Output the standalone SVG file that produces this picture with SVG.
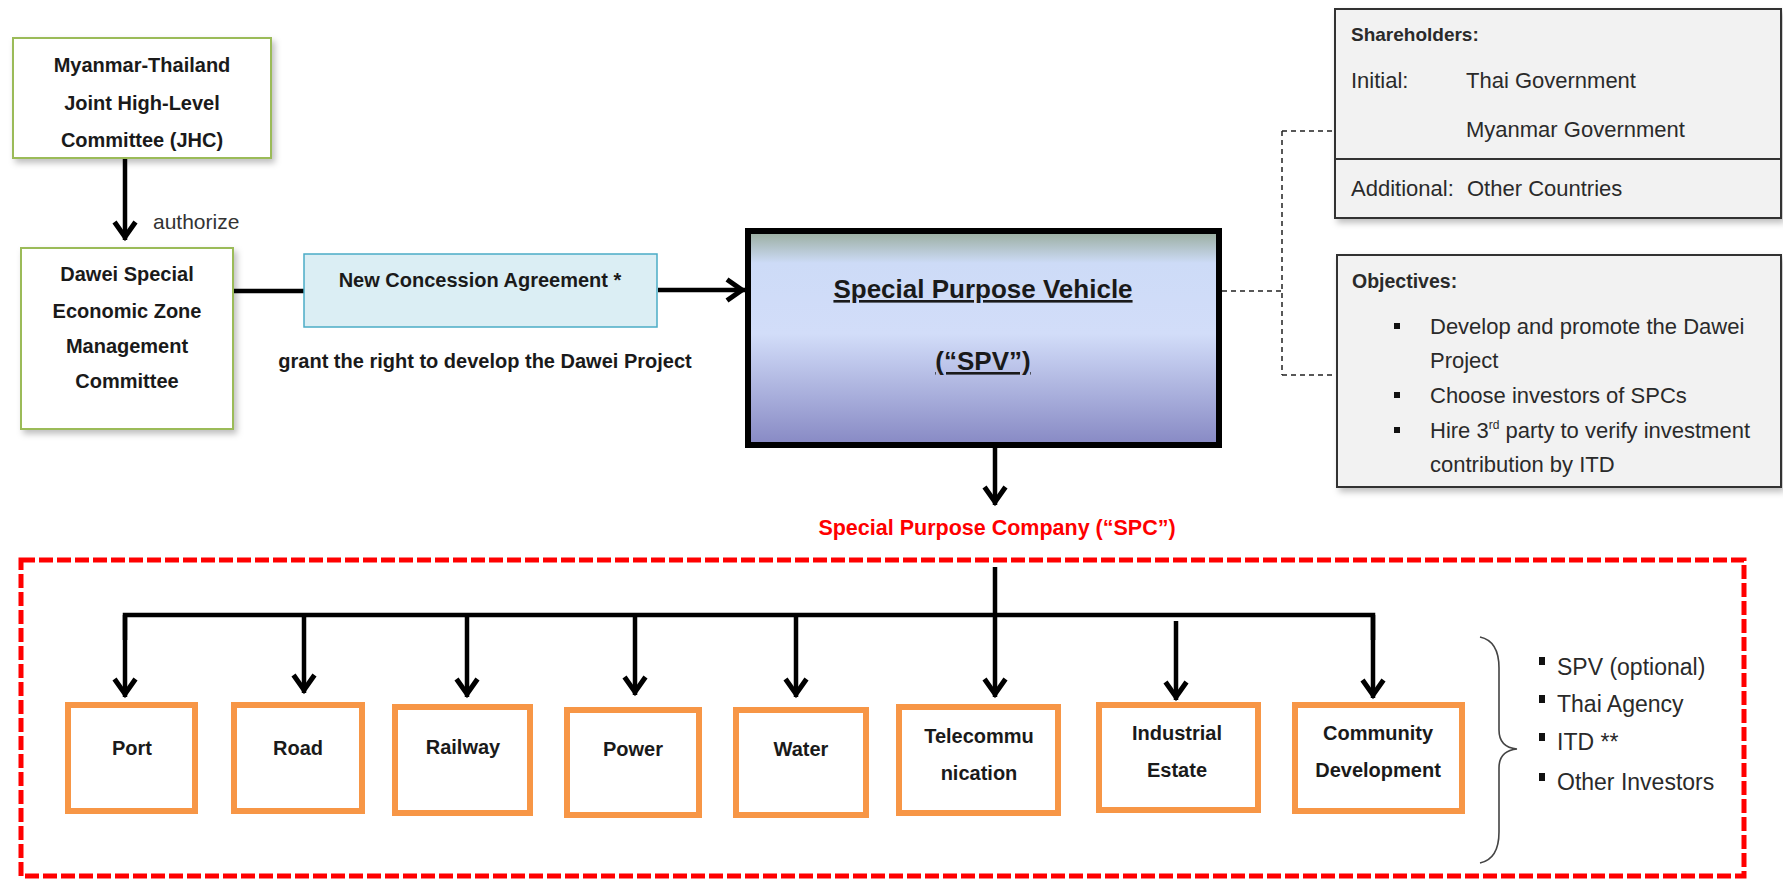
<svg xmlns="http://www.w3.org/2000/svg" width="1783" height="880" viewBox="0 0 1783 880">
<style>
text{font-family:"Liberation Sans",Arial,sans-serif;}
.b{font-weight:bold;fill:#1a1a1a;font-size:20px;}
.r{fill:#2a2a2a;font-size:22px;}
.lbl{font-weight:bold;fill:#1a1a1a;font-size:20px;text-anchor:middle;}
.mid{text-anchor:middle;}
.green{fill:#fff;stroke:#9BBB59;stroke-width:2;}
.grey{fill:#F2F2F2;stroke:#333;stroke-width:2;}
.org{fill:#fff;stroke:#F79646;stroke-width:6;}
.ln{stroke:#000;stroke-width:4.5;fill:none;}
.ar{stroke:#000;stroke-width:4.5;fill:none;marker-end:url(#arr);}
.dash{stroke:#222;stroke-width:1.5;fill:none;stroke-dasharray:5 4;}
.lst{fill:#2a2a2a;font-size:23px;}
</style>
<defs>
<marker id="arr" markerUnits="userSpaceOnUse" markerWidth="40" markerHeight="40" viewBox="-25 -20 40 40" refX="0" refY="0" orient="auto" overflow="visible">
<path d="M-18,-10.5 L-3,0 L-18,10.5" fill="none" stroke="#000" stroke-width="5" stroke-linejoin="miter"/>
</marker>
<linearGradient id="spvg" x1="0" y1="0" x2="0" y2="1">
<stop offset="0" stop-color="#98AC9C"/>
<stop offset="0.15" stop-color="#CDDBF7"/>
<stop offset="0.48" stop-color="#D2DDF9"/>
<stop offset="1" stop-color="#8789C4"/>
</linearGradient>
<filter id="sh" x="-10%" y="-10%" width="125%" height="130%">
<feDropShadow dx="3" dy="4" stdDeviation="3" flood-color="#000" flood-opacity="0.25"/>
</filter>
</defs>

<g id="connectors">
<line class="ar" x1="125" y1="159" x2="125" y2="240"/>
<line class="ln" x1="234" y1="291" x2="304" y2="291" stroke-width="3.5"/>
<line class="ar" x1="658" y1="290" x2="745" y2="290" stroke-width="3.5"/>
<line class="ar" x1="995" y1="448" x2="995" y2="505"/>
<path class="dash" d="M1222,291 H1282 M1282,131 V375 M1282,131 H1334 M1282,375 H1336"/>
<path class="ln" d="M125,640 V615 H1373 V640" stroke-width="5" stroke-linejoin="miter"/>
<line class="ar" x1="125" y1="615" x2="125" y2="697"/>
<line class="ar" x1="304" y1="615" x2="304" y2="693"/>
<line class="ar" x1="467" y1="615" x2="467" y2="697"/>
<line class="ar" x1="635" y1="615" x2="635" y2="695"/>
<line class="ar" x1="796" y1="615" x2="796" y2="697"/>
<line class="ar" x1="995" y1="567" x2="995" y2="697"/>
<line class="ar" x1="1176" y1="621" x2="1176" y2="700"/>
<line class="ar" x1="1373" y1="615" x2="1373" y2="698"/>
</g>

<g id="jhc">
<rect class="green" x="13" y="38" width="258" height="120" filter="url(#sh)"/>
<text class="b mid" x="142" y="72">Myanmar-Thailand</text>
<text class="b mid" x="142" y="110">Joint High-Level</text>
<text class="b mid" x="142" y="147">Committee (JHC)</text>
</g>

<g id="authorize-label">
<text x="153" y="229" font-size="21" fill="#333">authorize</text>
</g>

<g id="dawei">
<rect class="green" x="21" y="248" width="212" height="181" filter="url(#sh)"/>
<text class="b mid" x="127" y="281">Dawei Special</text>
<text class="b mid" x="127" y="318">Economic Zone</text>
<text class="b mid" x="127" y="353">Management</text>
<text class="b mid" x="127" y="388">Committee</text>
</g>

<g id="concession">
<rect x="304" y="254" width="353" height="73" fill="#DBEEF4" stroke="#4BACC6" stroke-width="1.5"/>
<text class="b mid" x="480" y="287" fill="#333">New Concession Agreement *</text>
</g>

<g id="grant-label">
<text class="b mid" x="485" y="368">grant the right to develop the Dawei Project</text>
</g>

<g id="spv">
<rect x="748" y="231" width="471" height="214" fill="url(#spvg)" stroke="#000" stroke-width="6"/>
<text class="mid" x="983" y="298" font-size="26" font-weight="bold" fill="#1a1a1a" text-decoration="underline">Special Purpose Vehicle</text>
<text class="mid" x="983" y="370" font-size="26" font-weight="bold" fill="#1a1a1a" text-decoration="underline">(“SPV”)</text>
</g>

<g id="shareholders">
<rect class="grey" x="1335" y="9" width="446" height="209" filter="url(#sh)"/>
<line x1="1335" y1="159" x2="1781" y2="159" stroke="#333" stroke-width="2"/>
<text x="1351" y="41" font-size="19" font-weight="bold" fill="#2a2a2a">Shareholders:</text>
<text class="r" x="1351" y="88">Initial:</text>
<text class="r" x="1466" y="88">Thai Government</text>
<text class="r" x="1466" y="137">Myanmar Government</text>
<text class="r" x="1351" y="196">Additional:</text>
<text class="r" x="1467" y="196">Other Countries</text>
</g>

<g id="objectives">
<rect class="grey" x="1337" y="255" width="444" height="232" filter="url(#sh)"/>
<text x="1352" y="288" font-size="19.5" font-weight="bold" fill="#2a2a2a">Objectives:</text>
<rect x="1394" y="323" width="6" height="6" fill="#111"/>
<rect x="1394" y="392" width="6" height="6" fill="#111"/>
<rect x="1394" y="427" width="6" height="6" fill="#111"/>
<text class="r" x="1430" y="334">Develop and promote the Dawei</text>
<text class="r" x="1430" y="368">Project</text>
<text class="r" x="1430" y="403">Choose investors of SPCs</text>
<text class="r" x="1430" y="438">Hire 3<tspan font-size="12" dy="-9">rd</tspan><tspan dy="9"> party to verify investment</tspan></text>
<text class="r" x="1430" y="472">contribution by ITD</text>
</g>

<g id="spc-title">
<text class="mid" x="997" y="535" font-size="21.5" font-weight="bold" fill="#FF0000">Special Purpose Company (“SPC”)</text>
</g>

<g id="spc-frame">
<rect x="21" y="560" width="1723" height="316" fill="none" stroke="#FF0000" stroke-width="5" stroke-dasharray="14 4"/>
</g>

<g id="port">
<rect class="org" x="68" y="705" width="127" height="106"/>
<text class="lbl" x="132" y="755">Port</text>
</g>
<g id="road">
<rect class="org" x="234" y="705" width="128" height="106"/>
<text class="lbl" x="298" y="755">Road</text>
</g>
<g id="railway">
<rect class="org" x="395" y="707" width="135" height="106"/>
<text class="lbl" x="463" y="754">Railway</text>
</g>
<g id="power">
<rect class="org" x="567" y="710" width="132" height="105"/>
<text class="lbl" x="633" y="756">Power</text>
</g>
<g id="water">
<rect class="org" x="736" y="710" width="130" height="105"/>
<text class="lbl" x="801" y="756">Water</text>
</g>
<g id="telecom">
<rect class="org" x="899" y="707" width="159" height="106"/>
<text class="lbl" x="979" y="743">Telecommu</text>
<text class="lbl" x="979" y="780">nication</text>
</g>
<g id="industrial">
<rect class="org" x="1099" y="705" width="159" height="105"/>
<text class="lbl" x="1177" y="740">Industrial</text>
<text class="lbl" x="1177" y="777">Estate</text>
</g>
<g id="community">
<rect class="org" x="1295" y="705" width="167" height="106"/>
<text class="lbl" x="1378" y="740">Community</text>
<text class="lbl" x="1378" y="777">Development</text>
</g>

<g id="investors">
<path d="M1480,637 C1494,640 1499,652 1499,668 L1499,730 C1499,742 1506,748 1517,749 C1506,750 1499,756 1499,768 L1499,832 C1499,848 1494,860 1480,863" fill="none" stroke="#444" stroke-width="1.6"/>
<rect x="1539" y="657" width="6" height="8" fill="#111"/>
<rect x="1539" y="695" width="6" height="8" fill="#111"/>
<rect x="1539" y="733" width="6" height="8" fill="#111"/>
<rect x="1539" y="773" width="6" height="8" fill="#111"/>
<text class="lst" x="1557" y="675">SPV (optional)</text>
<text class="lst" x="1557" y="712">Thai Agency</text>
<text class="lst" x="1557" y="750">ITD **</text>
<text class="lst" x="1557" y="790">Other Investors</text>
</g>
</svg>
